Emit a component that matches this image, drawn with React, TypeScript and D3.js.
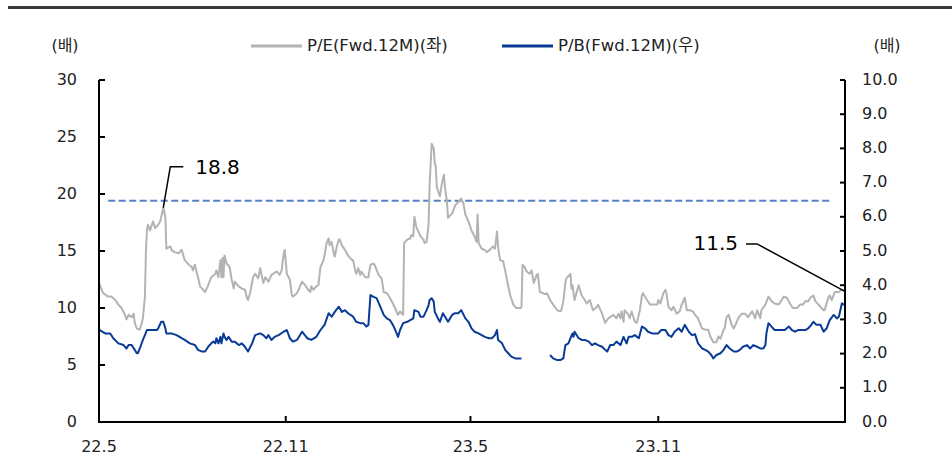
import React from "react";
import * as d3 from "d3";

// ---- data ----
const startDate = new Date(2022, 4, 2);
const endDate = new Date(2024, 4, 2);

const xTickDates = [new Date(2022, 4, 2), new Date(2022, 10, 1), new Date(2023, 4, 1), new Date(2023, 10, 1)];
const xTickLabels = ["22.5", "22.11", "23.5", "23.11"];
const leftTicks = [0, 5, 10, 15, 20, 25, 30];
const rightTicks = [0, 1, 2, 3, 4, 5, 6, 7, 8, 9, 10];

const legendLabels = ["P/E(Fwd.12M)(좌)", "P/B(Fwd.12M)(우)"];
const unitLabel = "(배)";

// reference P/E level (dashed line) and its span in days from start
const peReference = 19.4;
const peReferenceSpan = [9, 716];

// [day offset from 2022-05-02, value]
const peSeries: [number, number][] = [
  [0,12.2],[4,11.3],[9,11.0],[12,11.0],[16,10.7],[19,10.3],[22,10.0],[25,9.5],[27,9.0],[29,9.4],[32,9.2],[34,9.5],[35,8.7],[37,8.2],[40,8.1],[42,8.7],[43,9.1],[45,11.0],[46,15.1],[47,16.8],[48,17.3],[50,16.8],[53,17.6],[55,17.0],[58,17.3],[60,17.6],[63,18.8],[65,18.0],[66,15.2],[70,15.4],[71,15.1],[74,14.9],[78,14.8],[81,15.1],[84,14.2],[88,13.8],[91,13.6],[92,13.3],[94,13.8],[96,13.0],[97,12.7],[99,11.9],[101,11.7],[104,11.4],[107,12.0],[110,12.7],[114,13.0],[115,13.3],[117,12.7],[119,14.2],[120,12.7],[121,14.4],[122,12.7],[123,14.6],[125,13.9],[128,13.6],[130,12.5],[132,11.7],[133,12.3],[137,11.9],[140,11.7],[143,11.6],[145,10.9],[146,10.7],[148,11.3],[151,12.7],[153,13.0],[156,12.6],[158,13.5],[161,12.2],[163,12.7],[166,12.3],[169,12.9],[174,13.2],[177,12.9],[179,13.3],[181,14.8],[182,15.1],[183,14.1],[184,13.0],[187,12.5],[189,11.1],[190,11.0],[194,11.3],[197,11.9],[199,12.3],[202,12.0],[205,11.6],[207,11.4],[208,11.9],[210,11.6],[213,11.9],[215,12.0],[217,13.6],[220,14.2],[221,14.6],[223,15.7],[225,16.1],[226,15.5],[228,15.8],[230,14.8],[231,14.5],[233,15.4],[235,16.0],[236,16.0],[238,15.5],[241,15.1],[244,14.6],[248,14.2],[249,14.2],[251,13.3],[252,13.0],[254,13.5],[256,12.9],[257,13.2],[261,12.7],[264,12.7],[266,13.8],[269,13.9],[270,13.8],[274,12.9],[277,12.6],[279,11.4],[282,11.3],[285,10.9],[288,10.4],[290,10.0],[293,9.4],[295,9.7],[298,9.4],[299,15.7],[302,16.0],[305,16.1],[306,16.4],[308,16.3],[309,18.0],[311,17.1],[315,16.3],[318,16.0],[319,15.7],[321,15.8],[323,17.4],[324,20.9],[326,24.4],[328,24.0],[329,22.7],[330,22.4],[331,20.6],[334,19.8],[336,20.9],[338,21.7],[339,20.6],[341,19.3],[342,17.9],[346,18.3],[349,19.0],[352,19.3],[355,19.6],[357,19.2],[359,18.2],[362,17.6],[365,16.8],[368,16.3],[370,15.8],[371,18.2],[372,15.7],[375,15.2],[378,15.1],[380,14.9],[383,15.1],[386,15.4],[388,15.2],[390,16.7],[391,15.4],[393,14.2],[396,14.1],[398,13.3],[401,11.9],[403,11.1],[406,10.3],[409,10.0],[413,10.0],[414,10.1],[415,13.8],[417,13.6],[419,13.2],[422,13.0],[424,13.3],[426,12.2],[429,12.9],[430,13.0],[432,11.4],[435,11.3],[437,11.2],[439,11.3],[442,10.7],[445,10.3],[449,9.8],[452,9.7],[453,9.8],[455,10.6],[457,12.2],[458,12.6],[462,13.0],[463,11.7],[464,12.0],[466,10.7],[470,12.0],[473,11.1],[476,10.7],[478,10.4],[481,10.7],[484,9.8],[488,10.1],[489,10.3],[493,9.5],[496,8.7],[499,9.1],[501,9.2],[504,9.4],[507,9.1],[509,9.5],[511,9.1],[512,9.7],[514,8.8],[515,9.8],[519,9.4],[520,9.1],[522,9.7],[525,8.8],[527,8.7],[530,9.8],[532,11.1],[533,11.3],[537,10.7],[540,10.3],[543,10.3],[547,10.3],[548,10.7],[550,10.4],[553,11.3],[555,11.6],[556,11.3],[558,10.1],[561,9.8],[563,10.1],[566,9.5],[569,9.7],[571,10.3],[574,10.9],[576,9.8],[579,9.8],[582,9.7],[584,9.4],[587,9.1],[591,8.2],[594,8.1],[597,8.1],[599,7.5],[602,7.0],[605,7.0],[607,7.5],[609,7.3],[612,8.1],[613,8.2],[615,9.2],[617,9.4],[620,8.5],[622,8.2],[623,8.4],[627,9.2],[630,9.5],[633,9.5],[636,9.2],[640,9.7],[643,9.1],[645,9.8],[648,9.1],[649,9.8],[653,10.3],[656,11.0],[659,10.6],[662,10.4],[666,10.3],[669,10.7],[671,11.0],[674,10.9],[677,10.4],[680,10.0],[684,10.0],[687,10.3],[690,10.3],[692,10.6],[695,10.6],[697,10.9],[700,11.1],[702,10.6],[705,10.3],[710,9.8],[711,9.8],[715,11.0],[716,11.1],[718,10.7],[721,11.4],[725,11.4],[728,11.6],[730,11.5]
];

const pbSeries: [number, number | null][] = [
  [0,2.70],[6,2.59],[11,2.59],[14,2.45],[19,2.30],[24,2.25],[27,2.15],[29,2.25],[32,2.25],[35,2.11],[37,2.01],[38,2.01],[40,2.15],[43,2.40],[45,2.54],[47,2.69],[50,2.69],[53,2.69],[57,2.69],[58,2.74],[61,2.93],[63,2.93],[65,2.74],[66,2.59],[71,2.59],[76,2.54],[81,2.45],[84,2.40],[89,2.30],[94,2.25],[97,2.11],[101,2.06],[104,2.06],[107,2.20],[110,2.30],[112,2.35],[114,2.30],[115,2.45],[117,2.30],[119,2.49],[120,2.30],[122,2.59],[123,2.49],[125,2.40],[127,2.49],[130,2.35],[133,2.35],[137,2.25],[140,2.30],[143,2.20],[146,2.06],[150,2.30],[153,2.54],[158,2.59],[161,2.54],[164,2.45],[166,2.54],[169,2.40],[172,2.49],[176,2.54],[181,2.64],[184,2.69],[187,2.45],[190,2.35],[194,2.40],[199,2.64],[204,2.45],[208,2.40],[213,2.49],[217,2.69],[221,2.84],[225,3.18],[228,3.08],[231,3.22],[235,3.37],[238,3.22],[241,3.27],[244,3.18],[249,3.08],[252,2.93],[256,2.89],[259,2.89],[262,2.79],[264,2.84],[266,3.71],[269,3.66],[272,3.62],[275,3.42],[279,3.13],[282,3.03],[285,2.98],[288,2.84],[291,2.64],[293,2.49],[295,2.69],[298,2.89],[302,2.93],[305,2.98],[308,3.03],[309,3.27],[313,3.22],[315,3.08],[318,3.08],[321,3.27],[323,3.42],[324,3.57],[326,3.62],[328,3.52],[329,3.22],[333,2.98],[334,2.93],[337,3.18],[341,2.98],[342,2.93],[346,3.13],[349,3.18],[352,3.18],[355,3.27],[359,3.03],[362,2.93],[365,2.74],[368,2.64],[372,2.59],[375,2.54],[378,2.49],[382,2.45],[385,2.45],[388,2.54],[390,2.69],[391,2.40],[395,2.30],[398,2.11],[401,2.01],[404,1.91],[408,1.86],[411,1.86],[414,1.86],[428,null],[442,1.96],[445,1.86],[449,1.81],[452,1.81],[455,1.86],[457,2.25],[460,2.30],[462,2.45],[464,2.59],[465,2.49],[466,2.64],[470,2.45],[473,2.40],[476,2.40],[480,2.35],[483,2.25],[486,2.30],[489,2.25],[493,2.20],[496,2.11],[498,2.06],[501,2.25],[504,2.25],[507,2.35],[511,2.25],[514,2.49],[517,2.30],[519,2.49],[522,2.49],[525,2.54],[529,2.45],[532,2.79],[535,2.74],[538,2.64],[542,2.59],[545,2.59],[548,2.59],[551,2.69],[555,2.69],[558,2.54],[561,2.49],[564,2.64],[568,2.74],[571,2.64],[574,2.84],[578,2.64],[581,2.54],[584,2.57],[587,2.30],[591,2.15],[594,2.11],[597,2.06],[600,1.96],[602,1.86],[605,1.96],[609,2.01],[612,2.11],[615,2.25],[618,2.15],[622,2.06],[625,2.06],[628,2.11],[631,2.20],[635,2.25],[638,2.15],[641,2.25],[645,2.20],[648,2.15],[651,2.15],[653,2.25],[654,2.59],[656,2.89],[659,2.79],[662,2.69],[666,2.69],[669,2.69],[672,2.69],[676,2.79],[679,2.69],[682,2.64],[685,2.69],[689,2.69],[692,2.69],[695,2.74],[698,2.84],[700,2.93],[703,2.84],[707,2.84],[710,2.64],[713,2.74],[716,2.98],[720,3.13],[723,3.03],[725,3.08],[728,3.47],[730,3.42]
];

// ---- style ----
const W = 952;
const H = 459;
const PLOT = { left: 99, right: 845, top: 80, bottom: 422 };
const PE_COLOR = "#b3b3b3";
const PB_COLOR = "#083a98";
const REF_COLOR = "#5582c5";
const TEXT = "#222";
const FONT = "'DejaVu Sans', 'Noto Sans CJK KR', sans-serif";

export default function App() {
  const x = d3.scaleTime().domain([startDate, endDate]).range([PLOT.left, PLOT.right]);
  const yL = d3.scaleLinear().domain([0, 30]).range([PLOT.bottom, PLOT.top]);
  const yR = d3.scaleLinear().domain([0, 10]).range([PLOT.bottom, PLOT.top]);
  const toDate = (d: number) => d3.timeDay.offset(startDate, d);

  const peLine = d3
    .line<[number, number]>()
    .x((d) => x(toDate(d[0])))
    .y((d) => yL(d[1]));
  const pbLine = d3
    .line<[number, number | null]>()
    .defined((d) => d[1] != null)
    .x((d) => x(toDate(d[0])))
    .y((d) => yR(d[1] as number));

  // callouts: first-half peak and latest value of P/E
  const peak = d3.greatest(peSeries.filter((d) => d[0] < 200), (d) => d[1])!;
  const last = peSeries[peSeries.length - 1];
  const px = x(toDate(peak[0]));
  const py = yL(peak[1]);
  const lx = x(toDate(last[0]));
  const ly = yL(last[1]);

  return (
    <svg
      width={W}
      height={H}
      style={{ position: "absolute", left: 0, top: 0, background: "#fff" }}
      fontFamily={FONT}
    >
      <rect x={8} y={6} width={W - 8} height={3} fill="#3a3a3a" />

      {/* units */}
      <text x={65} y={46} fontSize={16} fill={TEXT} textAnchor="middle" dominantBaseline="middle">{unitLabel}</text>
      <text x={887} y={46} fontSize={16} fill={TEXT} textAnchor="middle" dominantBaseline="middle">{unitLabel}</text>

      {/* legend */}
      <line x1={251} x2={302} y1={46} y2={46} stroke={PE_COLOR} strokeWidth={3} />
      <text x={307} y={46} fontSize={16.5} fill={TEXT} dominantBaseline="middle">{legendLabels[0]}</text>
      <line x1={502} x2={553} y1={46} y2={46} stroke={PB_COLOR} strokeWidth={3} />
      <text x={558} y={46} fontSize={16.5} fill={TEXT} dominantBaseline="middle">{legendLabels[1]}</text>

      {/* reference dashed line */}
      <line
        x1={x(toDate(peReferenceSpan[0]))}
        x2={x(toDate(peReferenceSpan[1]))}
        y1={yL(peReference)}
        y2={yL(peReference)}
        stroke={REF_COLOR}
        strokeWidth={2}
        strokeDasharray="7,3.5"
      />

      {/* series */}
      <path d={peLine(peSeries) || ""} fill="none" stroke={PE_COLOR} strokeWidth={2} strokeLinejoin="round" />
      <path d={pbLine(pbSeries) || ""} fill="none" stroke={PB_COLOR} strokeWidth={2} strokeLinejoin="round" />

      {/* axes */}
      <g stroke="#000" strokeWidth={2} fill="none">
        <line x1={PLOT.left} x2={PLOT.left} y1={PLOT.top} y2={PLOT.bottom + 1} />
        <line x1={PLOT.right} x2={PLOT.right} y1={PLOT.top} y2={PLOT.bottom + 1} />
        <line x1={PLOT.left - 1} x2={PLOT.right + 1} y1={PLOT.bottom} y2={PLOT.bottom} />
        {leftTicks.map((t) => (
          <line key={"lt" + t} x1={PLOT.left} x2={PLOT.left + 6} y1={yL(t)} y2={yL(t)} />
        ))}
        {rightTicks.map((t) => (
          <line key={"rt" + t} x1={PLOT.right - 5} x2={PLOT.right} y1={yR(t)} y2={yR(t)} />
        ))}
        {xTickDates.map((d, i) => (
          <line key={"xt" + i} x1={x(d)} x2={x(d)} y1={PLOT.bottom} y2={PLOT.bottom - 6} />
        ))}
      </g>

      {leftTicks.map((t) => (
        <text key={"ll" + t} x={77} y={yL(t)} fontSize={16} fill={TEXT} textAnchor="end" dominantBaseline="middle">
          {t}
        </text>
      ))}
      {rightTicks.map((t) => (
        <text key={"rl" + t} x={862} y={yR(t)} fontSize={16} fill={TEXT} dominantBaseline="middle">
          {t.toFixed(1)}
        </text>
      ))}
      {xTickDates.map((d, i) => (
        <text key={"xl" + i} x={x(d)} y={447} fontSize={16} fill={TEXT} textAnchor="middle" dominantBaseline="middle">
          {xTickLabels[i]}
        </text>
      ))}

      {/* callouts */}
      <polyline
        points={`${px},${py} ${px + 7},${py - 41} ${px + 20},${py - 41}`}
        fill="none"
        stroke="#000"
        strokeWidth={1.5}
      />
      <text x={px + 32} y={py - 39} fontSize={20} fill="#000" dominantBaseline="middle">
        {d3.format(".1f")(peak[1])}
      </text>
      <polyline
        points={`${lx},${ly} ${lx - 87},${ly - 47} ${lx - 98},${ly - 47}`}
        fill="none"
        stroke="#000"
        strokeWidth={1.5}
      />
      <text x={lx - 106} y={ly - 46} fontSize={20} fill="#000" textAnchor="end" dominantBaseline="middle">
        {d3.format(".1f")(last[1])}
      </text>
    </svg>
  );
}
